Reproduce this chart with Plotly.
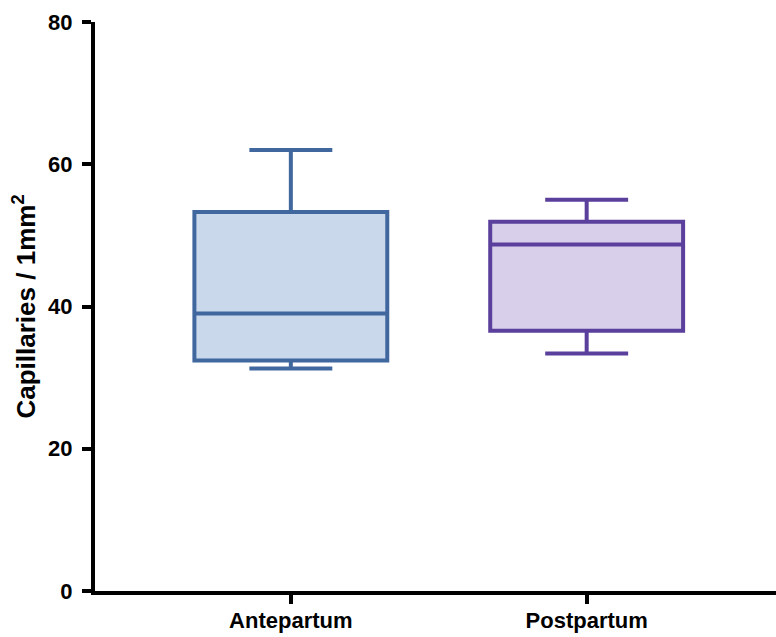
import plotly.graph_objects as go

# Five-number summaries per group (capillaries per mm²)
groups = ["Antepartum", "Postpartum"]
q1 = [32.4, 36.6]
median = [39.0, 48.7]
q3 = [53.3, 51.9]
lower = [31.3, 33.4]
upper = [62.0, 55.0]

line_colors = ["#41679F", "#5A3F9C"]
fill_colors = ["#C9D8EB", "#D8CFEA"]

fig = go.Figure()
for i, g in enumerate(groups):
    fig.add_trace(go.Box(
        x=[g],
        q1=[q1[i]], median=[median[i]], q3=[q3[i]],
        lowerfence=[lower[i]], upperfence=[upper[i]],
        name=g,
        width=0.652,
        whiskerwidth=0.43,
        line=dict(color=line_colors[i], width=4),
        fillcolor=fill_colors[i],
        boxpoints=False,
        showlegend=False,
    ))

font_family = "Liberation Sans, Arial, sans-serif"

fig.update_layout(
    width=776, height=637,
    margin=dict(l=95, r=0, t=22, b=46),
    plot_bgcolor="white", paper_bgcolor="white",
    boxmode="overlay",
    font=dict(family=font_family, color="black"),
    xaxis=dict(
        type="category",
        categoryorder="array", categoryarray=groups,
        range=[-0.662, 1.64],
        automargin=False,
        showline=True, linecolor="black", linewidth=4,
        ticks="outside", ticklen=9, tickwidth=4, tickcolor="black",
        tickfont=dict(size=22, family=font_family, weight="bold"),
        ticklabelstandoff=-2,
        showgrid=False, zeroline=False,
    ),
    yaxis=dict(
        range=[0, 80],
        tickvals=[0, 20, 40, 60, 80],
        automargin=False,
        showline=True, linecolor="black", linewidth=4,
        ticks="outside", ticklen=9, tickwidth=4, tickcolor="black",
        tickfont=dict(size=22, family=font_family, weight="bold"),
        ticklabelstandoff=5,
        showgrid=False, zeroline=False,
        title=dict(text="Capillaries / 1mm<sup>2</sup>",
                   font=dict(size=26, family=font_family, weight="bold"),
                   standoff=6),
    ),
)

fig.write_html("out.html")
